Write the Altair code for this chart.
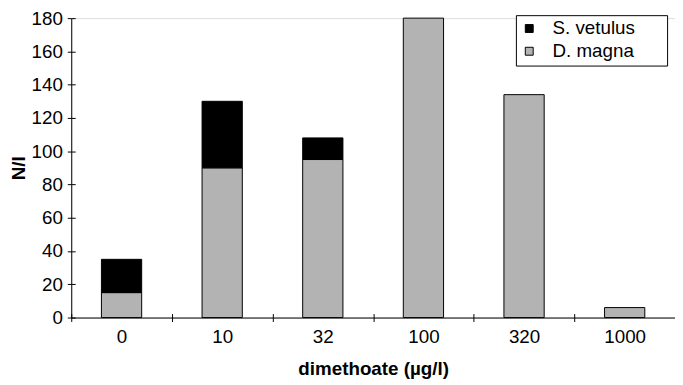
import altair as alt
import pandas as pd

categories = ["0", "10", "32", "100", "320", "1000"]
d_magna = [15, 90, 95, 180, 134, 6]
s_vetulus = [20, 40, 13, 0, 0, 0]
species = ["S. vetulus", "D. magna"]

rows = []
for c, d, s in zip(categories, d_magna, s_vetulus):
    rows.append({"dose": c, "species": "D. magna", "value": d, "ord": 0})
    rows.append({"dose": c, "species": "S. vetulus", "value": s, "ord": 1})
df = pd.DataFrame(rows)
df = df[df["value"] > 0]

font = "Liberation Sans"
FS = 19

xscale = alt.Scale(paddingInner=0, paddingOuter=0)
yscale = alt.Scale(domain=[0, 180], nice=False)
yvals = list(range(0, 181, 20))
last_tick = {"condition": {"test": "datum.value == '1000'", "value": 0}, "value": 1}
pad = "\u2800" * 2

bars = alt.Chart(df).mark_bar(
    stroke="black", strokeWidth=1, width=alt.RelativeBandSize(0.4)
).encode(
    x=alt.X("dose:N", sort=categories, scale=xscale,
            axis=alt.Axis(title="dimethoate (µg/l)", labelAngle=0, tickBand="extent",
                          orient="bottom", tickOpacity=last_tick,
                          domainColor="black", tickColor="black", tickSize=4,
                          labelFontSize=FS, labelColor="black", labelPadding=6,
                          titleFontSize=FS, titleFontWeight="bold", titleColor="black",
                          titlePadding=14)),
    y=alt.Y("value:Q", stack="zero", scale=yscale,
            axis=alt.Axis(title="N/l", values=yvals, grid=False, orient="left",
                          domainColor="black", tickColor="black", tickSize=4,
                          labelFontSize=FS, labelColor="black", labelPadding=5,
                          titleFontSize=FS, titleFontWeight="bold", titleColor="black",
                          titlePadding=3)),
    color=alt.Color("species:N",
                    scale=alt.Scale(domain=species, range=["#000000", "#b3b3b3"]),
                    legend=alt.Legend(title=None, orient="none", legendX=450, legendY=-3,
                                      strokeColor="black", padding=4, fillColor="white",
                                      symbolType="square", symbolSize=64,
                                      symbolStrokeColor="black", symbolStrokeWidth=1,
                                      labelFontSize=FS, labelColor="black", labelLimit=400,
                                      labelExpr="datum.label + '" + pad + "'",
                                      rowPadding=3, labelOffset=14)),
    order=alt.Order("ord:Q"),
)

# inner half of the crossing tick marks
inner_ticks = alt.Chart(df).mark_bar(opacity=0).encode(
    x=alt.X("dose:N", sort=categories, scale=xscale,
            axis=alt.Axis(title=None, labels=False, domain=False, tickBand="extent",
                          orient="bottom", offset=-4, tickColor="black", tickSize=4,
                          tickOpacity=last_tick)),
    y=alt.Y("value:Q", stack="zero", scale=yscale,
            axis=alt.Axis(title=None, labels=False, domain=False, values=yvals,
                          grid=False, orient="left", offset=-4,
                          tickColor="black", tickSize=4)),
)

chart = alt.layer(bars, inner_ticks).resolve_axis(x="independent", y="independent").properties(
    width=611, height=303,
    padding={"left": 64, "top": 8, "right": 0, "bottom": 66},
    autosize=alt.AutoSizeParams(type="none"),
).configure_view(stroke=None).configure(font=font)

chart.save("out.html", embed_options={"renderer": "svg", "actions": False})
